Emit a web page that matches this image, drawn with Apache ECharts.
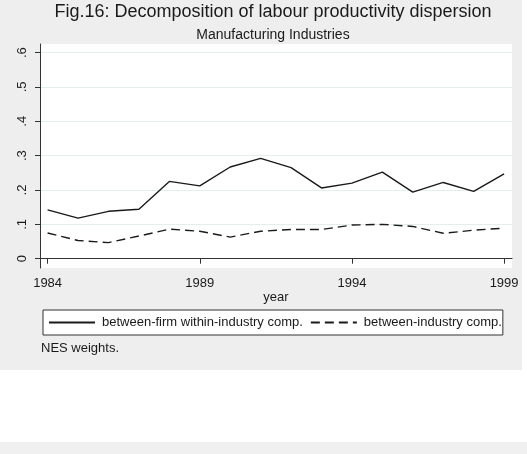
<!DOCTYPE html>
<html>
<head>
<meta charset="utf-8">
<script src="https://cdn.jsdelivr.net/npm/echarts@6/dist/echarts.min.js"></script>
<style>html,body{margin:0;padding:0;background:#fff;}#c{width:527px;height:454px;}</style>
</head>
<body>
<div id="c"></div>
<script>
var years = [1984,1985,1986,1987,1988,1989,1990,1991,1992,1993,1994,1995,1996,1997,1998,1999];
var withinFirm = [0.142,0.118,0.138,0.144,0.225,0.212,0.267,0.292,0.265,0.206,0.220,0.252,0.194,0.222,0.196,0.247];
var betweenInd = [0.075,0.053,0.047,0.066,0.086,0.080,0.063,0.080,0.085,0.085,0.098,0.100,0.094,0.074,0.083,0.089];
var xTicks = [1984,1989,1994,1999];
var yTicks = [0,0.1,0.2,0.3,0.4,0.5,0.6];
var seriesNames = ['between-firm within-industry comp.','between-industry comp.'];

var FONT = 'Liberation Sans, Arial, sans-serif';
function pairs(ys){ return years.map(function(y,i){ return [y, ys[i]]; }); }

var chart = echarts.init(document.getElementById('c'), null, {renderer:'canvas'});
chart.setOption({
  animation: false,
  backgroundColor: '#ffffff',
  graphic: [
    {type:'rect', z:-10, shape:{x:0,y:0,width:522,height:370}, style:{fill:'#eeeeee'}},
    {type:'rect', z:-10, shape:{x:0,y:442,width:527,height:12}, style:{fill:'#f0f0f0'}}
  ],
  title: [
    {text:'Fig.16: Decomposition of labour productivity dispersion', left:273, textAlign:'center', top:3,
     padding:0, textStyle:{fontFamily:FONT, fontSize:18, fontWeight:'normal', color:'#1a1a1a'}},
    {text:'Manufacturing Industries', left:273, textAlign:'center', top:28,
     padding:0, textStyle:{fontFamily:FONT, fontSize:14, fontWeight:'normal', color:'#1a1a1a'}},
    {text:'NES weights.', left:41, top:342, padding:0,
     textStyle:{fontFamily:FONT, fontSize:13, fontWeight:'normal', color:'#1a1a1a'}}
  ],
  grid: {left:40, right:15, top:44, bottom:186, show:true, backgroundColor:'#ffffff', borderWidth:0},
  legend: {
    left:43, top:310, padding:[6,1,6,5], itemGap:7, itemWidth:46, itemHeight:2,
    borderColor:'#333', borderWidth:1, backgroundColor:'#ffffff',
    itemStyle:{opacity:0},
    textStyle:{fontFamily:FONT, fontSize:13, color:'#1a1a1a', padding:[0,0,0,2]},
    data: seriesNames
  },
  xAxis: {
    type:'value', min:1983.75, max:1999.26,
    name:'year', nameLocation:'middle', nameGap:23,
    nameTextStyle:{fontFamily:FONT, fontSize:13, color:'#1a1a1a'},
    axisLine:{show:true, lineStyle:{color:'#333', width:1}},
    axisTick:{show:true, length:5, customValues:xTicks, lineStyle:{color:'#333'}},
    axisLabel:{customValues:xTicks, margin:9, fontFamily:FONT, fontSize:13, color:'#1a1a1a',
      formatter:function(v){return String(v);}},
    splitLine:{show:false}
  },
  yAxis: {
    type:'value', min:-0.027, max:0.625,
    axisLine:{show:true, lineStyle:{color:'#333', width:1}},
    axisTick:{show:true, length:5, customValues:yTicks, lineStyle:{color:'#333'}},
    axisLabel:{customValues:yTicks, rotate:90, margin:11, fontFamily:FONT, fontSize:13, color:'#1a1a1a',
      formatter:function(v){ if (Math.abs(v)<1e-9) return '0'; return '.' + Math.round(v*10); }},
    splitLine:{show:true, lineStyle:{color:'#e6edef', width:1}}
  },
  series: [
    {name:seriesNames[0], type:'line', data:pairs(withinFirm), symbol:'none',
     lineStyle:{color:'#1a1a1a', width:1.4, type:'solid'}, itemStyle:{color:'#1a1a1a'}},
    {name:seriesNames[1], type:'line', data:pairs(betweenInd), symbol:'none',
     lineStyle:{color:'#1a1a1a', width:1.4, type:[9,5]}, itemStyle:{color:'#1a1a1a'}}
  ]
});
</script>
</body>
</html>
